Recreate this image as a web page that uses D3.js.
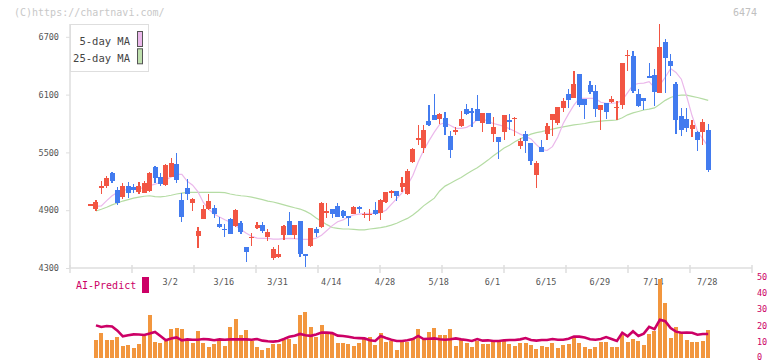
<!DOCTYPE html>
<html>
<head>
<meta charset="utf-8">
<script src="https://cdn.jsdelivr.net/npm/d3@7"></script>
<style>
	body { margin: 0; background: #ffffff; }
	svg text { font-family: "DejaVu Sans Mono", monospace; }
</style>
</head>
<body>
<div id="vis_container"></div>
<script>
// daily candles (index 0 is the leading doji, no volume)
var opens  = [4958,4913,5140,5151,5289,5110,5040,5151,5144,5092,5082,5103,5352,5248,5161,5248,5380,5006,5134,4978,
	4632,4809,4912,4926,4757,4705,4809,4739,4770,4515,4615,4718,4749,4625,4407,4417,4643,4788,4643,4788,
	4445,4532,4708,4729,4880,4912,4944,4895,4836,4857,4930,4857,4857,4902,4874,4988,5088,5103,5144,5068,
	5397,5629,5549,5826,5888,5843,5854,5670,5715,5774,5947,5930,5950,5808,5912,5691,5657,5715,5836,5843,
	5570,5691,5601,5265,5552,5691,5836,5805,5958,6106,6068,6314,6051,6200,6140,5940,6010,6026,5965,5992,
	6506,6501,6106,6068,6290,6303,6120,6643,6449,6210,5878,5850,5743,5715,5715,5732];
var highs  = [4965,5009,5203,5255,5300,5144,5179,5190,5169,5196,5203,5300,5362,5283,5380,5439,5494,5075,5221,5030,
	4729,4950,5068,4954,4826,4757,4820,4912,4790,4515,4666,4780,4780,4702,4521,4539,4746,4884,4746,4788,
	4445,4718,4729,4982,4971,4912,4978,4905,4836,4944,4944,4884,4909,4982,5013,5092,5110,5103,5248,5330,
	5542,5784,5784,5992,6103,5906,5922,5725,5767,5930,6002,5958,6096,5912,5912,5871,5657,5888,5895,5871,
	5646,5725,5601,5414,5629,5802,5899,5975,6061,6158,6345,6314,6051,6241,6200,5992,6010,6085,6033,6431,
	6563,6553,6158,6068,6431,6366,6833,6677,6521,6227,5958,5958,5836,5722,5847,5795];
var lows   = [4955,4890,5065,5127,5185,4951,5013,5023,5082,5068,5075,5090,5179,5151,5150,5248,5179,4781,5006,4892,
	4511,4809,4902,4816,4719,4625,4650,4725,4650,4365,4525,4710,4660,4583,4383,4400,4591,4643,4600,4417,
	4314,4521,4625,4718,4816,4822,4833,4815,4739,4857,4874,4816,4791,4850,4798,4978,5030,5000,5092,5060,
	5387,5577,5491,5777,5836,5795,5681,5445,5681,5767,5888,5767,5826,5715,5798,5605,5431,5629,5732,5673,
	5532,5497,5369,5127,5507,5625,5673,5780,5922,5964,6068,5975,5847,6106,5871,5733,5850,6010,5836,5950,
	6348,6120,5975,5940,6269,5982,6120,6120,6296,5691,5670,5710,5663,5518,5577,5300];
var closes = [4962,4988,5148,5231,5203,4978,5151,5082,5110,5151,5185,5289,5231,5169,5369,5387,5213,4826,5068,5016,
	4687,4912,4995,4857,4729,4694,4656,4902,4677,4469,4622,4749,4687,4677,4497,4445,4736,4643,4746,4445,
	4428,4718,4666,4971,4888,4857,4833,4840,4830,4936,4909,4863,4863,4857,5006,5086,5095,5047,5185,5310,
	5535,5646,5732,5784,5836,5899,5767,5525,5732,5847,5895,5912,5826,5912,5798,5767,5611,5888,5819,5860,
	5618,5618,5414,5387,5507,5777,5899,5975,6033,6044,6210,5992,5992,6124,5950,5992,5922,6054,5972,6431,
	6514,6137,5982,6037,6280,6130,6591,6483,6397,5836,5732,5753,5784,5629,5812,5317];

// moving averages
var ma5  = [null,4940,4945,5000,5050,5085,5105,5115,5125,5125,5135,5155,5170,5190,5215,5245,5272,5272,5200,5160,
	5090,4980,4910,4860,4830,4800,4775,4740,4700,4660,4630,4610,4608,4608,4600,4600,4605,4608,4605,4600,
	4598,4598,4610,4640,4690,4740,4780,4800,4830,4850,4860,4865,4867,4867,4875,4900,4960,5020,5080,5160,
	5260,5400,5520,5620,5710,5790,5810,5780,5750,5750,5760,5790,5840,5850,5820,5800,5785,5770,5745,5720,
	5690,5665,5640,5580,5530,5520,5560,5660,5800,5900,5990,6060,6060,6060,6060,6020,6010,6010,6015,6040,
	6120,6200,6215,6220,6235,6170,6200,6280,6370,6330,6260,6080,5880,5720,5640,5560];
var ma25 = [null,4892,4910,4930,4955,4975,4995,5010,5025,5035,5045,5050,5040,5038,5045,5055,5068,5078,5085,5086,
	5086,5086,5086,5086,5086,5082,5068,5058,5050,5045,5035,5023,5010,4995,4985,4971,4955,4940,4925,4912,
	4890,4860,4820,4785,4750,4720,4712,4705,4705,4700,4695,4695,4705,4712,4720,4730,4745,4765,4790,4815,
	4850,4895,4945,4985,5025,5100,5150,5180,5210,5240,5275,5310,5340,5380,5420,5465,5505,5545,5575,5610,
	5640,5665,5690,5705,5715,5730,5742,5755,5765,5775,5785,5792,5800,5812,5820,5825,5829,5832,5836,5860,
	5890,5910,5925,5940,5950,5962,6000,6040,6070,6088,6095,6094,6082,6070,6055,6040];

// lower panel
var volumes = [null,11.0,15.4,11.0,11.0,12.9,7.3,7.9,6.0,8.5,13.5,26.6,9.8,9.1,10.4,18.0,18.7,18.0,10.4,9.1,
	16.6,9.1,6.7,8.5,10.4,7.3,19.1,24.3,14.1,17.2,10.2,6.7,4.8,6.0,8.5,8.5,11.0,11.6,8.5,26.5,
	28.4,19.1,12.9,20.3,14.7,14.7,9.2,9.2,8.5,7.3,9.2,11.6,12.9,7.9,15.3,9.8,10.4,4.8,9.8,9.8,
	12.2,17.9,12.2,16.0,18.4,14.1,14.1,17.9,7.3,11.0,9.2,6.7,10.4,8.5,8.5,9.8,9.8,10.4,8.5,7.3,
	9.2,9.2,7.9,5.4,7.3,6.7,9.2,6.0,7.9,8.5,12.9,9.2,6.7,5.4,6.7,9.8,9.8,6.7,6.7,14.1,
	9.8,11.6,10.4,7.9,14.7,16.6,49.0,34.0,12.2,19.1,16.0,11.0,9.8,9.8,10.4,17.2];
var predict = [null,20.1,19.1,19.7,19.4,16.8,13.3,14.0,14.5,14.4,14.1,15.0,16.0,13.5,10.8,12.0,12.6,10.8,11.4,11.2,
	11.2,11.6,11.4,10.9,11.4,11.2,11.4,11.4,11.4,11.4,11.2,11.6,10.6,10.2,10.0,10.4,11.6,13.0,13.6,14.8,
	14.0,13.6,14.5,15.6,15.6,15.3,13.7,13.5,13.0,12.4,12.2,12.0,10.8,10.4,13.5,12.3,11.2,10.4,10.4,10.8,
	11.6,13.5,11.6,11.8,12.0,11.5,11.2,11.5,12.0,11.4,11.0,10.4,11.6,10.6,10.8,10.4,10.4,10.8,11.0,11.0,
	11.4,12.2,11.0,10.6,11.0,11.0,11.6,11.2,11.2,11.8,13.1,13.1,12.6,11.5,11.2,11.6,12.8,11.6,10.4,15.5,
	13.3,16.4,13.5,15.0,19.2,17.8,23.6,22.7,18.5,16.2,15.5,15.7,15.5,14.3,14.7,14.7];

var tickLabels = ["3/2","3/16","3/31","4/14","4/28","5/18","6/1","6/15","6/29","7/14","7/28"];
var tickIndex  = [15,25,35,45,55,65,75,85,95,105,115];
var priceTicks = [4300,4900,5500,6100,6700];
var volTicks   = [0,10,20,30,40,50];

var chart = {};
chart.width = 772;
chart.height = 361;
chart.left = 70;
chart.right = 752;
chart.bottom = 268;
chart.top = 24;
chart.up = "#f25543";
chart.down = "#427bef";
chart.grid = "#dedede";

chart.svg = d3.select("#vis_container").append("svg")
	.attr("width", chart.width)
	.attr("height", chart.height)
	.style("background-color", "#FFFFFF");

chart.x = d3.scaleLinear()
	.domain([0, opens.length - 1])
	.range([90.6, 708.2]);
chart.y = d3.scaleLinear()
	.domain([4300, 6700])
	.range([chart.bottom, 36.8]);
chart.yv = d3.scaleLinear()
	.domain([0, 50])
	.range([357.7, 277.3]);
chart.grid_x = d3.scaleLinear()
	.domain([0, 11])
	.range([chart.left, chart.right]);

// header
chart.svg.append("text")
	.attr("x", 14).attr("y", 16)
	.attr("font-size", "10px").attr("fill", "#c8c8c8")
	.text("(C)https://chartnavi.com/");
chart.svg.append("text")
	.attr("x", 757).attr("y", 16)
	.attr("text-anchor", "end")
	.attr("font-size", "10px").attr("fill", "#c0c0c0")
	.text("6474");

// price axis
var yAxis = chart.svg.append("g")
	.attr("transform", "translate(" + chart.left + ",0)")
	.call(d3.axisLeft(chart.y).tickValues(priceTicks).tickSize(4).tickPadding(7).tickFormat(d3.format("d")));
yAxis.select(".domain").remove();
yAxis.selectAll(".tick line").attr("stroke", chart.grid);
yAxis.selectAll(".tick text")
	.attr("font-family", "DejaVu Sans Mono")
	.attr("font-size", "8.5px")
	.attr("fill", "#555");
chart.svg.append("line")
	.attr("x1", chart.left).attr("x2", chart.left)
	.attr("y1", chart.top).attr("y2", chart.bottom)
	.attr("stroke", chart.grid).attr("stroke-width", 1.5);

// time axis
chart.svg.append("line")
	.attr("x1", chart.left).attr("x2", chart.right)
	.attr("y1", chart.bottom).attr("y2", chart.bottom)
	.attr("stroke", chart.grid).attr("stroke-width", 1.5);
chart.svg.selectAll(".gridtick")
	.data(chart.grid_x.ticks(11))
	.enter().append("line")
	.attr("class", "gridtick")
	.attr("x1", function(d) { return chart.grid_x(d); })
	.attr("x2", function(d) { return chart.grid_x(d); })
	.attr("y1", chart.bottom - 3)
	.attr("y2", chart.bottom + 5)
	.attr("stroke", chart.grid).attr("stroke-width", 1.5);
chart.svg.selectAll(".xlabel")
	.data(tickLabels)
	.enter().append("text")
	.attr("class", "xlabel")
	.attr("x", function(d, i) { return chart.x(tickIndex[i]) - 1; })
	.attr("y", 285)
	.attr("text-anchor", "middle")
	.attr("font-size", "8.5px").attr("fill", "#555")
	.text(function(d) { return d; });

// moving averages
var maLine = d3.line()
	.defined(function(d) { return d != null; })
	.x(function(d, i) { return chart.x(i); })
	.y(function(d) { return chart.y(d); });
chart.svg.append("path")
	.attr("d", maLine(ma25))
	.attr("fill", "none").attr("stroke", "#b5dca4").attr("stroke-width", 1.2);
chart.svg.append("path")
	.attr("d", maLine(ma5))
	.attr("fill", "none").attr("stroke", "#ebb8eb").attr("stroke-width", 1.2);

// candles
var candles = chart.svg.selectAll(".candle")
	.data(d3.range(opens.length))
	.enter().append("g")
	.attr("class", "candle")
	.attr("shape-rendering", "crispEdges");
candles.append("line")
	.attr("x1", function(i) { return chart.x(i); })
	.attr("x2", function(i) { return chart.x(i); })
	.attr("y1", function(i) { return chart.y(highs[i]); })
	.attr("y2", function(i) { return chart.y(lows[i]); })
	.attr("stroke", function(i) { return closes[i] >= opens[i] ? chart.up : chart.down; })
	.attr("stroke-width", 1.2);
candles.append("rect")
	.attr("x", function(i) { return chart.x(i) - 2.5; })
	.attr("width", 5)
	.attr("y", function(i) { return chart.y(Math.max(opens[i], closes[i])); })
	.attr("height", function(i) { return Math.max(1.5, Math.abs(chart.y(opens[i]) - chart.y(closes[i]))); })
	.attr("fill", function(i) { return closes[i] >= opens[i] ? chart.up : chart.down; });

// legend
chart.legend = chart.svg.append("g");
chart.legend.append("rect")
	.attr("x", 70.5).attr("y", 24.5).attr("width", 78).attr("height", 47)
	.attr("fill", "#fff").attr("stroke", chart.grid);
chart.legend.selectAll(".lg")
	.data([["5-day MA", "#ebb8eb"], ["25-day MA", "#bfe0ae"]])
	.enter().append("g")
	.each(function(d, i) {
		var g = d3.select(this);
		g.append("text")
			.attr("x", 130).attr("y", 45 + i * 16.5)
			.attr("text-anchor", "end")
			.attr("font-size", "10.5px").attr("fill", "#444")
			.text(d[0]);
		g.append("rect")
			.attr("x", 137.5).attr("y", 31.5 + i * 17.3).attr("width", 5).attr("height", 15)
			.attr("fill", d[1]).attr("stroke", "#555");
	});

// lower panel
chart.svg.append("text")
	.attr("x", 76).attr("y", 289)
	.attr("font-size", "10px").attr("fill", "#cc0066")
	.text("AI-Predict");
chart.svg.append("rect")
	.attr("x", 142).attr("y", 277).attr("width", 7).attr("height", 16)
	.attr("fill", "#cc0066");
chart.svg.selectAll(".vlabel")
	.data(volTicks)
	.enter().append("text")
	.attr("class", "vlabel")
	.attr("x", 757)
	.attr("y", function(d) { return Math.min(chart.yv(d) + 3, 359.5); })
	.attr("font-size", "8.5px").attr("fill", "#cc0066")
	.text(function(d) { return d; });

chart.svg.selectAll(".vol")
	.data(d3.range(volumes.length).filter(function(i) { return volumes[i] != null; }))
	.enter().append("rect")
	.attr("class", "vol")
	.attr("shape-rendering", "crispEdges")
	.attr("x", function(i) { return chart.x(i) - 2; })
	.attr("width", 4)
	.attr("y", function(i) { return chart.yv(volumes[i]); })
	.attr("height", function(i) { return chart.yv(0) - chart.yv(volumes[i]); })
	.attr("fill", "#f2963e");

var predLine = d3.line()
	.defined(function(d) { return d != null; })
	.x(function(d, i) { return chart.x(i); })
	.y(function(d) { return chart.yv(d); });
chart.svg.append("path")
	.attr("d", predLine(predict))
	.attr("fill", "none").attr("stroke", "#cc0066").attr("stroke-width", 2.6);
</script>
</body>
</html>
